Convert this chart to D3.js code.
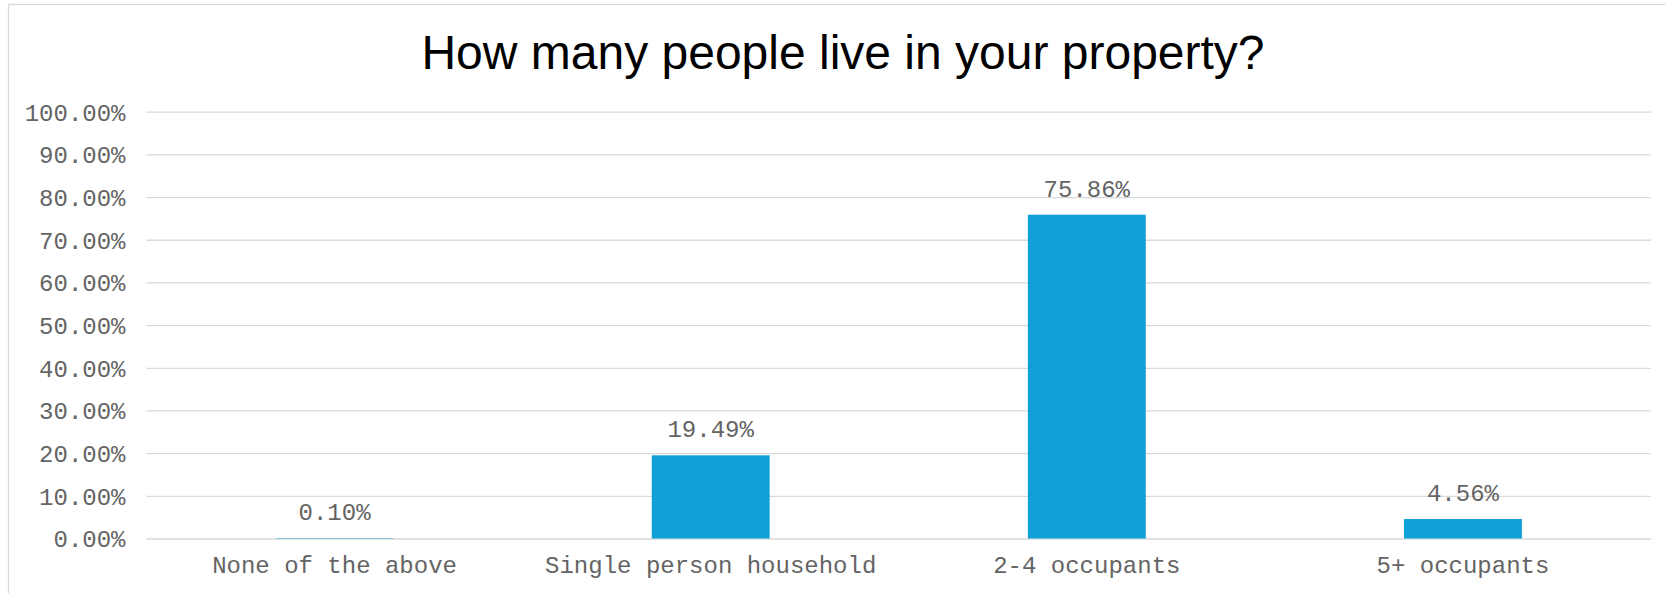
<!DOCTYPE html>
<html>
<head>
<meta charset="utf-8">
<script src="https://cdn.jsdelivr.net/npm/d3@7"></script>
<style>
  html, body { margin: 0; padding: 0; background: #ffffff; }
  svg { display: block; }
</style>
</head>
<body>
<svg id="chart" width="1665" height="593"></svg>
<script>
const title = "How many people live in your property?";
const categories = ["None of the above", "Single person household", "2-4 occupants", "5+ occupants"];
const values = [0.10, 19.49, 75.86, 4.56];
const yTicks = [0, 10, 20, 30, 40, 50, 60, 70, 80, 90, 100];

const W = 1665, H = 593;
const margin = { left: 146.5, right: 1651, top: 111.7, bottom: 538.5 };
const svg = d3.select("#chart");

// chart border (right and bottom edges fall outside the canvas)
svg.append("rect")
  .attr("x", 8.5).attr("y", 4.5)
  .attr("width", W + 10).attr("height", H + 10)
  .attr("fill", "#ffffff")
  .attr("stroke", "#d9d9d9").attr("stroke-width", 1.3);

const x = d3.scaleBand()
  .domain(categories)
  .range([margin.left, margin.right])
  .paddingInner(2.19 / 3.19)
  .paddingOuter(2.19 / 3.19 / 2);

const y = d3.scaleLinear().domain([0, 100]).range([margin.bottom, margin.top]);

const monoFont = "'Liberation Mono', 'Courier New', monospace";
const textColor = "#646464";
const fs = "24px";

// gridlines + y labels
const yAxis = d3.axisLeft(y)
  .tickValues(yTicks)
  .tickSize(-(margin.right - margin.left))
  .tickPadding(21)
  .tickFormat(d => d.toFixed(2) + "%");

const gy = svg.append("g")
  .attr("transform", `translate(${margin.left},0)`)
  .call(yAxis);
gy.select(".domain").remove();
gy.selectAll(".tick line").attr("stroke", "#d9d9d9").attr("stroke-width", 1.3);
gy.selectAll(".tick text")
  .attr("fill", textColor)
  .attr("font-family", monoFont)
  .attr("font-size", fs)
  .attr("dy", "0.35em");

// bars
svg.append("g").selectAll("rect")
  .data(values)
  .join("rect")
  .attr("x", (d, i) => x(categories[i]))
  .attr("width", x.bandwidth())
  .attr("y", d => y(d))
  .attr("height", d => y(0) - y(d))
  .attr("fill", "#109fd6");

// value labels
svg.append("g").selectAll("text")
  .data(values)
  .join("text")
  .attr("x", (d, i) => x(categories[i]) + x.bandwidth() / 2)
  .attr("y", d => y(d) - 18)
  .attr("text-anchor", "middle")
  .attr("fill", textColor)
  .attr("font-family", monoFont)
  .attr("font-size", fs)
  .text(d => d.toFixed(2) + "%");

// x axis labels
const xAxis = d3.axisBottom(x).tickSize(0).tickPadding(0);
const gx = svg.append("g")
  .attr("transform", `translate(0,${margin.bottom})`)
  .call(xAxis);
gx.select(".domain").remove();
gx.selectAll(".tick text")
  .attr("fill", textColor)
  .attr("font-family", monoFont)
  .attr("font-size", fs)
  .attr("dy", "0")
  .attr("y", 34);

// title
svg.append("text")
  .attr("x", 843)
  .attr("y", 69)
  .attr("text-anchor", "middle")
  .attr("fill", "#000000")
  .attr("font-family", "'Liberation Sans', Arial, sans-serif")
  .attr("font-size", "48px")
  .text(title);
</script>
</body>
</html>
